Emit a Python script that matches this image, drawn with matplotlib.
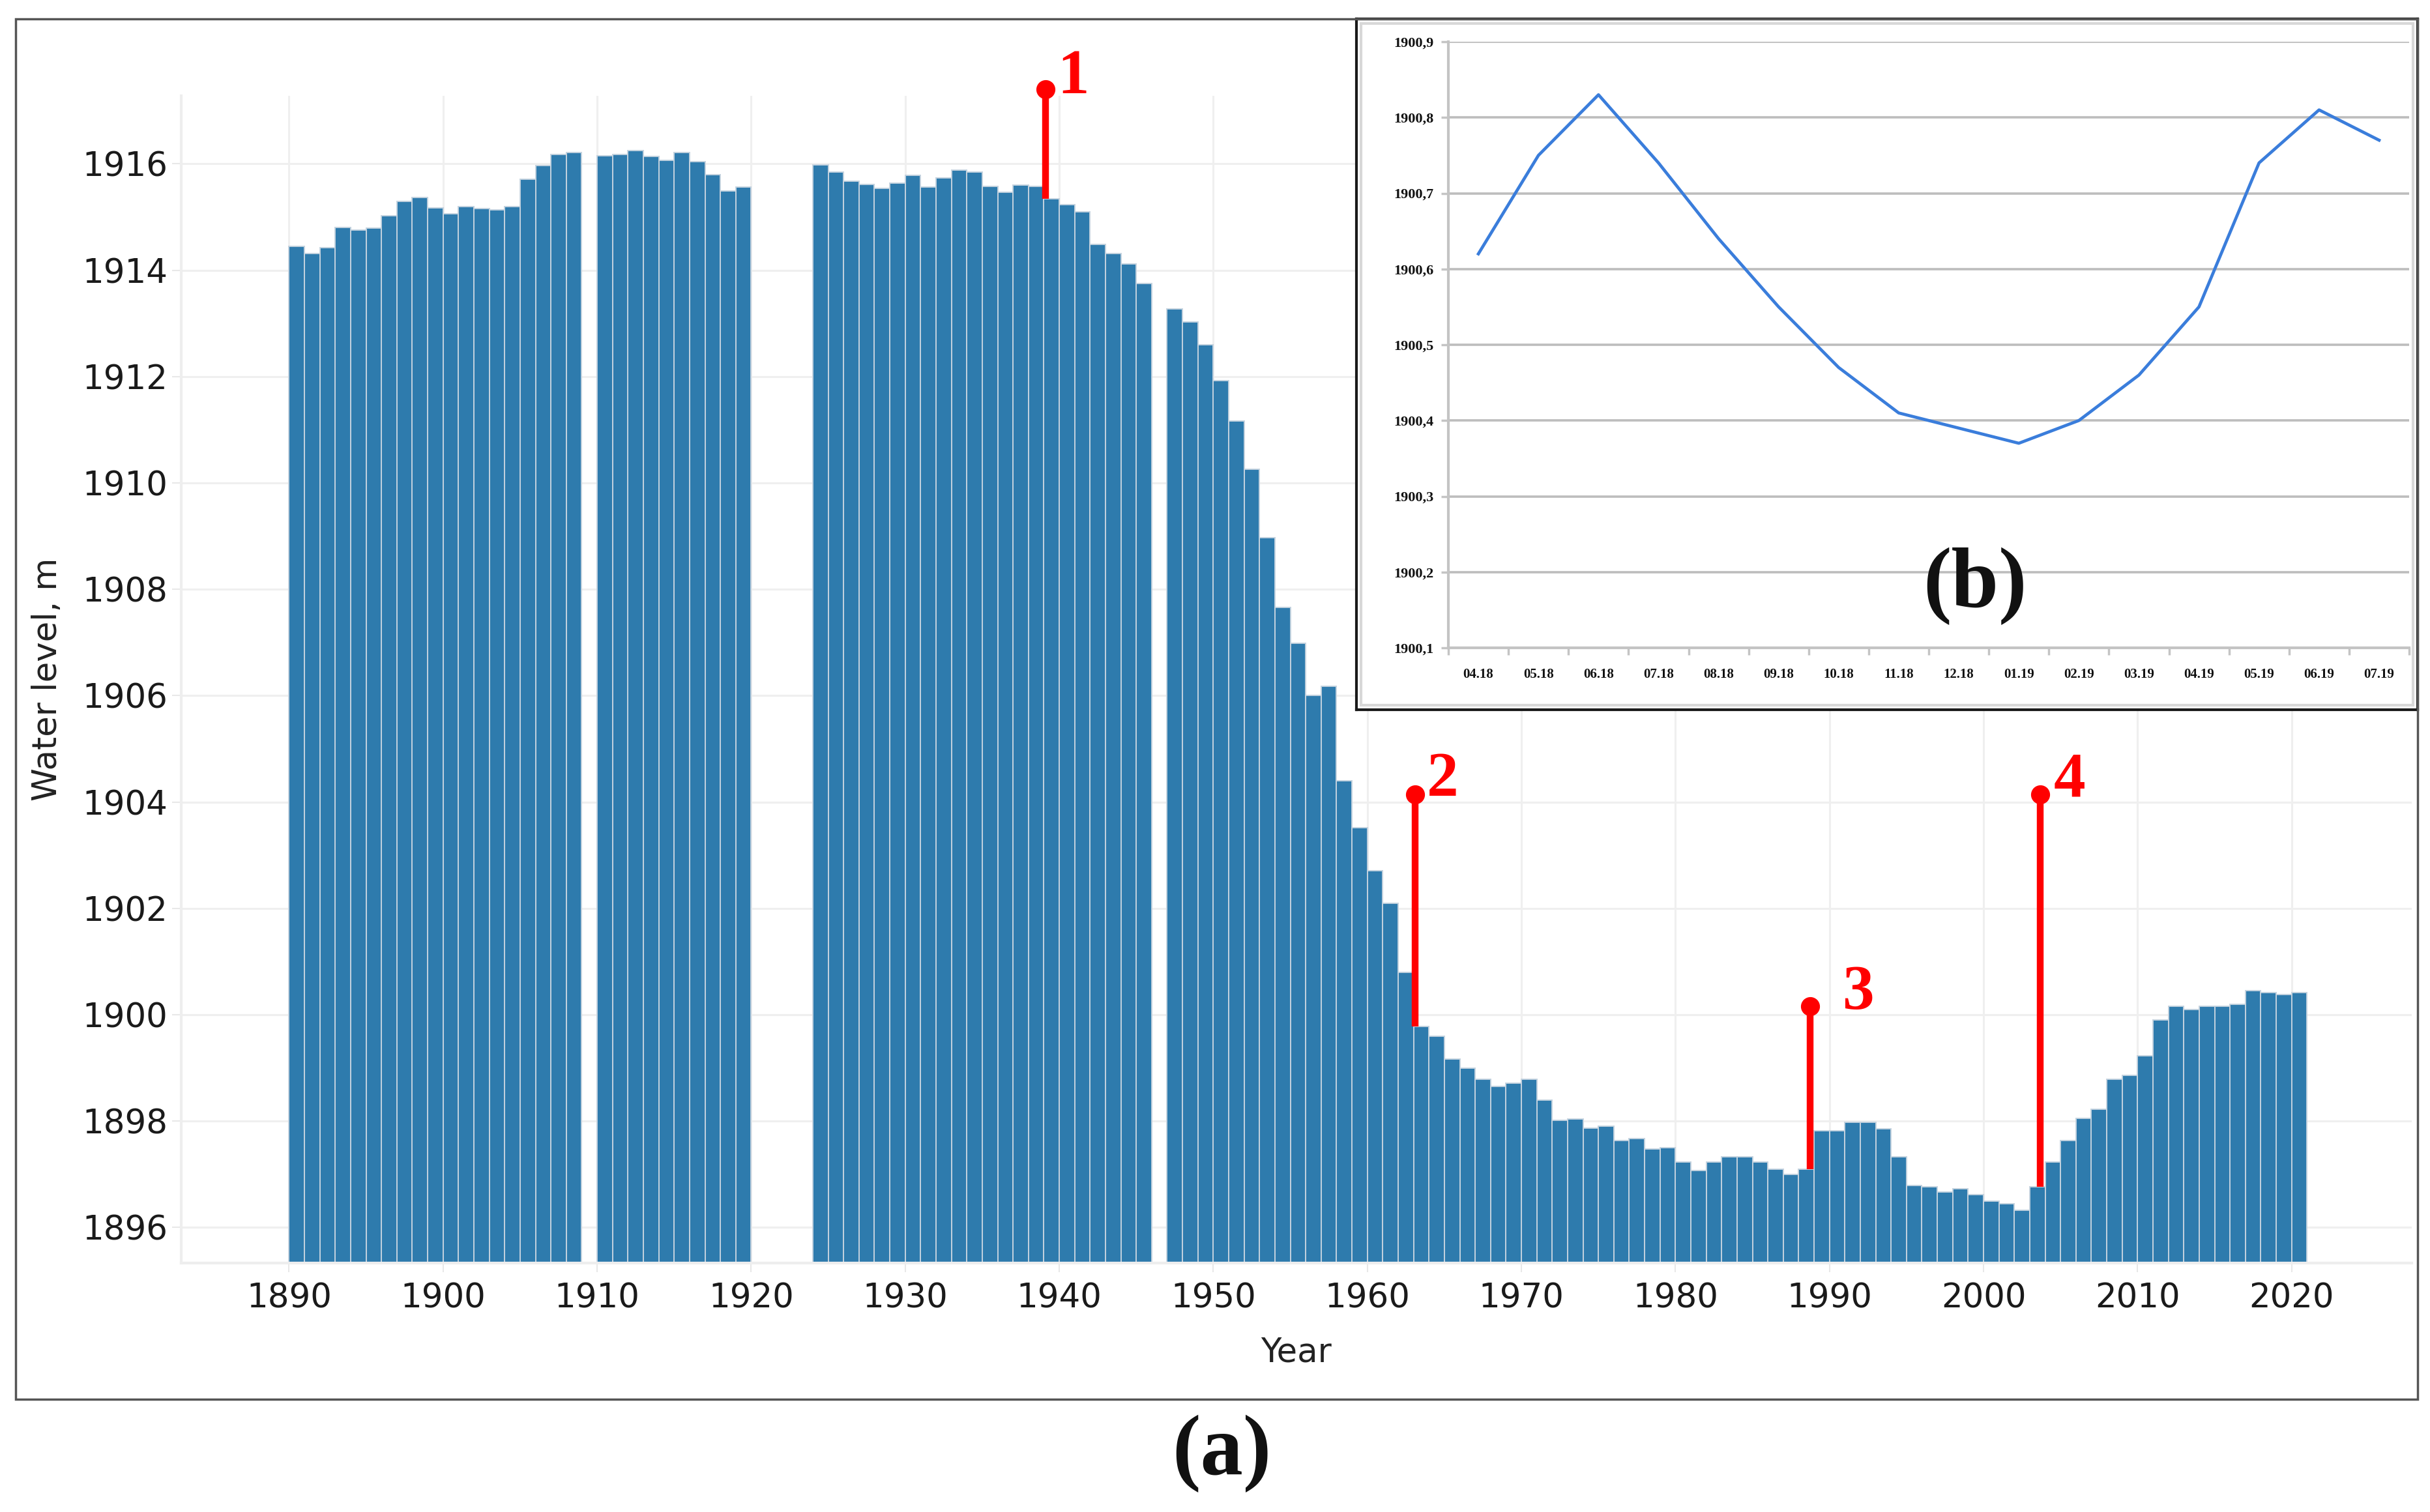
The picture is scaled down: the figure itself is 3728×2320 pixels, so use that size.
import numpy as np
import matplotlib
matplotlib.use("Agg")
import matplotlib.pyplot as plt
from matplotlib.patches import Rectangle

# annual water level, m (years with no data are left out)
years_1 = list(range(1890, 1909))
levels_1 = [1914.45, 1914.32, 1914.42, 1914.80, 1914.76, 1914.79, 1915.03, 1915.30, 1915.37, 1915.17,
            1915.06, 1915.20, 1915.16, 1915.13, 1915.20, 1915.71, 1915.97, 1916.18, 1916.21]
years_2 = list(range(1910, 1920))
levels_2 = [1916.15, 1916.18, 1916.25, 1916.14, 1916.07, 1916.21, 1916.04, 1915.80, 1915.49, 1915.57]
years_3 = list(range(1924, 1946))
levels_3 = [1915.98, 1915.84, 1915.67, 1915.61, 1915.54, 1915.64, 1915.78, 1915.57, 1915.74, 1915.88,
            1915.84, 1915.58, 1915.47, 1915.60, 1915.58, 1915.34, 1915.23, 1915.10, 1914.49, 1914.32,
            1914.12, 1913.75]
years_4 = list(range(1947, 2021))
levels_4 = [1913.27, 1913.03, 1912.60, 1911.92, 1911.17, 1910.26, 1908.97, 1907.66, 1906.99, 1906.01,
            1906.18, 1904.40, 1903.52, 1902.71, 1902.10, 1900.80, 1899.78, 1899.60, 1899.17, 1899.00,
            1898.79, 1898.65, 1898.71, 1898.79, 1898.39, 1898.01, 1898.04, 1897.87, 1897.90, 1897.64,
            1897.67, 1897.48, 1897.50, 1897.23, 1897.07, 1897.23, 1897.33, 1897.33, 1897.23, 1897.10,
            1897.00, 1897.10, 1897.82, 1897.82, 1897.98, 1897.98, 1897.85, 1897.33, 1896.79, 1896.76,
            1896.66, 1896.73, 1896.62, 1896.49, 1896.45, 1896.32, 1896.76, 1897.23, 1897.64, 1898.05,
            1898.22, 1898.79, 1898.86, 1899.23, 1899.90, 1900.16, 1900.10, 1900.16, 1900.16, 1900.19,
            1900.45, 1900.42, 1900.38, 1900.42]

years = np.array(years_1 + years_2 + years_3 + years_4)
levels = np.array(levels_1 + levels_2 + levels_3 + levels_4)

# marked events (red pins)
event_x = [1939.1, 1963.1, 1988.75, 2003.7]
event_top = [1917.40, 1904.14, 1900.16, 1904.14]
event_labels = ["1", "2", "3", "4"]
label_x = [1940.9, 1964.9, 1991.9, 2005.6]
label_y = [1917.62, 1904.40, 1900.40, 1904.40]

# inset (b): monthly level
months = ["04.18", "05.18", "06.18", "07.18", "08.18", "09.18", "10.18", "11.18",
          "12.18", "01.19", "02.19", "03.19", "04.19", "05.19", "06.19", "07.19"]
monthly = [1900.62, 1900.75, 1900.83, 1900.74, 1900.64, 1900.55, 1900.47, 1900.41,
           1900.39, 1900.37, 1900.40, 1900.46, 1900.55, 1900.74, 1900.81, 1900.77]
inset_yticks = [1900.1, 1900.2, 1900.3, 1900.4, 1900.5, 1900.6, 1900.7, 1900.8, 1900.9]

W, H = 3728, 2320
fig = plt.figure(figsize=(W / 100, H / 100), dpi=100)
plt.rcParams['font.family'] = 'DejaVu Sans'

# main chart (a)
ax = fig.add_axes([278 / W, 1 - 1938 / H, (3700 - 278) / W, (1938 - 147) / H])
base = 1890
ax.bar(years, levels - base, bottom=base, width=1.0, align='edge',
       color='#2e7bad', edgecolor='#c3d2df', linewidth=1.4, zorder=2)
ax.set_xlim(1883, 2027.8)
ax.set_ylim(1895.33, 1917.28)
ax.set_xticks(range(1890, 2021, 10))
ax.set_yticks(range(1896, 1917, 2))
ax.grid(True, color='#efefef', linewidth=2.2, zorder=0)
ax.set_axisbelow(True)
for s in ['top', 'right']:
    ax.spines[s].set_visible(False)
for s in ['left', 'bottom']:
    ax.spines[s].set_color('#eeeeee')
    ax.spines[s].set_linewidth(3)
ax.tick_params(axis='both', colors='#e8e8e8', labelcolor='#1a1a1a', labelsize=37,
               length=10, width=1.5)
ax.tick_params(axis='x', pad=11)
ax.tick_params(axis='y', pad=5)
ax.set_xlabel('Year', fontsize=37, color='#222222', labelpad=24)
ax.set_ylabel('Water level, m', fontsize=37, color='#222222', labelpad=20)

serif = 'Liberation Serif'
for x, top, lab, lx, ly in zip(event_x, event_top, event_labels, label_x, label_y):
    bottom = levels[years == int(x)][0]
    ax.plot([x, x], [bottom, top], color='#ff0000', linewidth=7.5, zorder=5, clip_on=False,
            solid_capstyle='butt')
    ax.plot([x], [top], 'o', color='#ff0000', markersize=20, zorder=6, clip_on=False)
    ax.text(lx, ly, lab, color='#ff0000', fontsize=70, fontweight='bold', family=serif,
            ha='center', va='center', zorder=6, clip_on=False)

# outer frame around (a)
fig.patches.append(Rectangle((24 / W, 1 - 2147 / H), (3709 - 24) / W, (2147 - 29) / H,
                             transform=fig.transFigure, fill=False, edgecolor='#555555',
                             linewidth=2.5, zorder=10))

# white panel for inset (b)
panel = fig.add_axes([2081 / W, 1 - 1089 / H, (3709 - 2081) / W, (1089 - 29) / H])
panel.set_xticks([])
panel.set_yticks([])
panel.set_facecolor('white')
for s in panel.spines.values():
    s.set_color('#1a1a1a')
    s.set_linewidth(3)
panel.set_zorder(3)
fig.patches.append(Rectangle((2088 / W, 1 - 1082 / H), (3702 - 2088) / W, (1082 - 36) / H,
                             transform=fig.transFigure, fill=False, edgecolor='#d8d8d8',
                             linewidth=3, zorder=11))

axin = fig.add_axes([2222 / W, 1 - 994 / H, (3696 - 2222) / W, (994 - 64) / H])
axin.set_zorder(4)
axin.patch.set_alpha(0)
xi = np.arange(len(months))
axin.plot(xi, monthly, color='#3a7ddb', linewidth=3.4, zorder=3)
axin.set_xlim(-0.5, len(months) - 0.5)
axin.set_ylim(1900.1, 1900.9)
axin.set_yticks(inset_yticks)
axin.set_yticklabels([f"{v:.1f}".replace('.', ',') for v in inset_yticks],
                     fontfamily=serif, fontweight='bold', fontsize=16, color='#111111')
axin.set_xticks(xi)
axin.set_xticklabels(months, fontfamily=serif, fontweight='bold', fontsize=15, color='#111111')
axin.set_xticks(np.arange(-0.5, len(months), 1.0), minor=True)
axin.grid(True, axis='y', color='#bdbdbd', linewidth=2.6, zorder=0)
for s in ['top', 'right']:
    axin.spines[s].set_visible(False)
for s in ['left', 'bottom']:
    axin.spines[s].set_color('#c4c4c4')
    axin.spines[s].set_linewidth(3)
axin.tick_params(axis='x', which='major', length=0, pad=22)
axin.tick_params(axis='x', which='minor', length=8, width=2.5, color='#c4c4c4')
axin.tick_params(axis='y', length=8, width=2.5, color='#c4c4c4', pad=8)
axin.text(0.548, 0.102, '(b)', transform=axin.transAxes, fontsize=94, fontweight='bold',
          family=serif, ha='center', va='center', color='#111111')

fig.text(1874 / W, 1 - 2230 / H, '(a)', fontsize=94, fontweight='bold', family=serif,
         ha='center', va='center', color='#111111')

fig.savefig('out.png', dpi=100, facecolor='white')
